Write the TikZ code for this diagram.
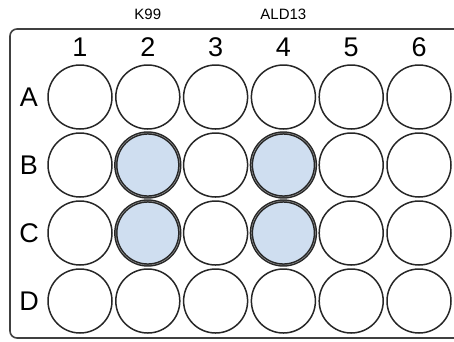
\documentclass[tikz,border=0pt]{standalone}
\usepackage{fontspec}
\setmainfont{Liberation Sans}
\definecolor{wellblue}{RGB}{207,222,240}
\tikzset{
    well/.style={circle, draw=black!85, line width=1.5pt, minimum size=64pt, inner sep=0pt},
    sample/.style={well, fill=wellblue, double=black!35, double distance=0.4pt},
    plate/.style={draw=black!75, line width=1.6pt, rounded corners=7pt},
    rowlabel/.style={font=\fontsize{27}{27}\selectfont, inner sep=0pt},
    collabel/.style={font=\fontsize{27}{27}\selectfont, inner sep=0pt},
    strain/.style={font=\fontsize{15}{15}\selectfont, inner sep=0pt},
}
\begin{document}
\begin{tikzpicture}[x=1pt, y=-1pt]
    \useasboundingbox (0,0) rectangle (454,341);

    % Plate outline
    \draw[plate] (470,29) -- (10,29) -- (10,338) -- (470,338);

    % Wells
    \foreach \r [count=\i from 0] in {A,B,C,D}
        \foreach \c in {1,...,6}
            \node[well] (w-\r-\c) at ({80+67.8*(\c-1)}, {97+68*\i}) {};

    % Samples
    \foreach \r/\c in {B/2, C/2, B/4, C/4}
        \node[sample] at (w-\r-\c) {};

    % Row labels
    \foreach \r in {A,B,C,D}
        \node[rowlabel] (row-\r) at (29, 0 |- w-\r-1) {\r};

    % Column labels
    \foreach \c in {1,...,6}
        \node[collabel] (col-\c) at (w-A-\c |- 0,47) {\c};

    % Strain labels
    \node[strain] (k99) at (col-2 |- 0,14) {K99};
    \node[strain] (ald13) at (col-4 |- 0,14) {ALD13};
\end{tikzpicture}
\end{document}
